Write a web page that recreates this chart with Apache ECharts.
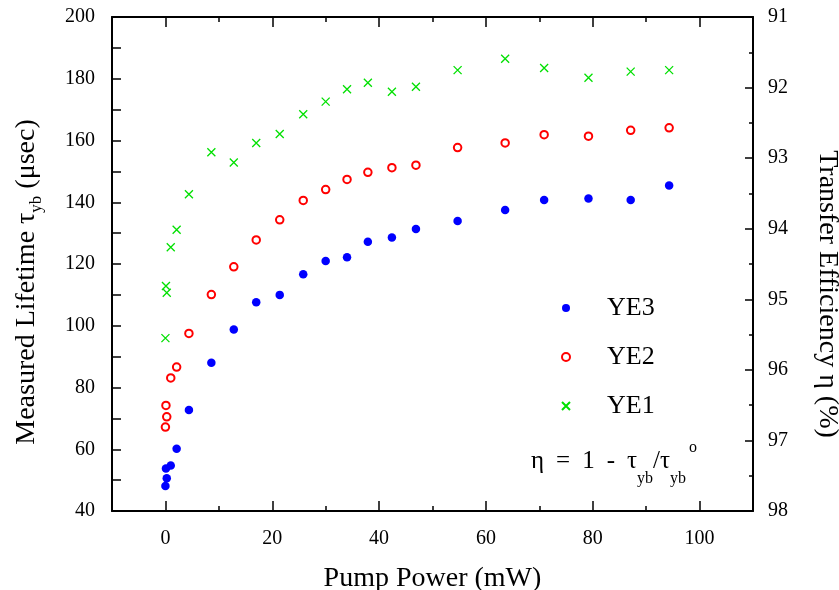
<!DOCTYPE html>
<html><head><meta charset="utf-8">
<script src="https://cdn.jsdelivr.net/npm/echarts@6/dist/echarts.min.js"></script>
<style>html,body{margin:0;padding:0;background:#fff}#c{width:839px;height:590px}</style>
</head><body><div id="c"></div>
<script>
// Pump power (mW), shared by all three samples
const power = [0, 0.25, 0.1, 1.0, 2.1, 4.4, 8.6, 12.8, 17.0, 21.4, 25.8, 30.0, 34.0, 37.9, 42.4, 46.9, 54.7, 63.6, 70.9, 79.2, 87.1, 94.3];
// Measured lifetime tau_yb (usec)
const ye3 = [48.1, 50.6, 53.8, 54.7, 60.2, 72.7, 88.0, 98.8, 107.6, 110.0, 116.7, 121.0, 122.2, 127.2, 128.6, 131.3, 133.9, 137.5, 140.7, 141.2, 140.7, 145.4];
const ye2 = [67.2, 70.5, 74.2, 83.1, 86.6, 97.5, 110.1, 119.1, 127.8, 134.3, 140.6, 144.1, 147.4, 149.7, 151.2, 152.0, 157.7, 159.2, 161.9, 161.4, 163.3, 164.1];
const ye1 = [96.0, 110.7, 112.9, 125.4, 131.1, 142.6, 156.2, 152.9, 159.2, 162.1, 168.5, 172.6, 176.6, 178.7, 175.8, 177.4, 182.8, 186.5, 183.5, 180.3, 182.3, 182.8];
const seriesNames = ['YE3', 'YE2', 'YE1'];
const xMajorTicks = [0, 20, 40, 60, 80, 100];
const xMinorTicks = [10, 30, 50, 70, 90];

const FONT = 'Liberation Serif';
const chart = echarts.init(document.getElementById('c'), null, {renderer: 'canvas'});
function pairs(ys) { return power.map((x, i) => [x, ys[i]]); }
const tickLine = {color: '#000', width: 1.5};

function xAx(position, ticks, len, main) {
  return {
    type: 'value', position: position, min: -10, max: 110, gridIndex: 0,
    axisLine: {show: main, onZero: false, lineStyle: {color: '#000', width: 2}},
    axisTick: {show: true, inside: true, length: len, customValues: ticks, lineStyle: tickLine},
    axisLabel: main && position === 'bottom'
      ? {show: true, customValues: xMajorTicks, margin: 18, fontSize: 20, fontFamily: FONT, color: '#000'}
      : {show: false},
    splitLine: {show: false},
    name: main && position === 'bottom' ? 'Pump Power (mW)' : '',
    nameLocation: 'middle', nameGap: 54,
    nameTextStyle: {fontSize: 28, fontFamily: FONT, color: '#000'}
  };
}

const option = {
  animation: false,
  backgroundColor: '#fff',
  grid: {left: 112, right: 86, top: 17, bottom: 79, containLabel: false, outerBoundsMode: 'none'},
  xAxis: [
    xAx('bottom', xMajorTicks, 10, true),
    xAx('bottom', xMinorTicks, 5, false),
    xAx('top', xMajorTicks, 10, true),
    xAx('top', xMinorTicks, 5, false)
  ],
  yAxis: [
    {
      type: 'value', position: 'left', min: 40, max: 200, interval: 20,
      axisLine: {show: true, onZero: false, lineStyle: {color: '#000', width: 2}},
      axisTick: {show: true, inside: true, length: 9, lineStyle: tickLine},
      minorTick: {show: true, splitNumber: 2, length: 9, lineStyle: tickLine},
      axisLabel: {margin: 17, fontSize: 20, fontFamily: FONT, color: '#000'},
      splitLine: {show: false},
      name: 'Measured Lifetime τ{sub|yb} (μsec)',
      nameLocation: 'middle', nameGap: 67,
      nameTextStyle: {fontSize: 28, fontFamily: FONT, color: '#000', lineHeight: 36, padding: [0, 36, 0, 0],
        rich: {sub: {fontSize: 17, fontFamily: FONT, color: '#000', lineHeight: 17, verticalAlign: 'bottom'}}}
    },
    {
      type: 'value', position: 'right', min: 91, max: 98, interval: 1, inverse: true,
      axisLine: {show: true, onZero: false, lineStyle: {color: '#000', width: 2}},
      axisTick: {show: true, inside: true, length: 8, lineStyle: tickLine},
      minorTick: {show: true, splitNumber: 2, length: 4, lineStyle: tickLine},
      axisLabel: {margin: 15, fontSize: 20, fontFamily: FONT, color: '#000'},
      splitLine: {show: false},
      name: 'Transfer Efficiency η (%)',
      nameLocation: 'middle', nameGap: 60, nameRotate: -90,
      nameTextStyle: {fontSize: 28, fontFamily: FONT, color: '#000', padding: [0, 0, 0, 60]}
    }
  ],
  legend: {
    orient: 'vertical', left: 556, top: 290, itemWidth: 8, itemHeight: 8, itemGap: 23,
    selectedMode: false, data: seriesNames,
    textStyle: {fontSize: 26, fontFamily: FONT, color: '#000', lineHeight: 26, padding: [0, 0, 0, 32]}
  },
  graphic: [{
    type: 'text', x: 531, y: 435,
    style: {
      text: '{m|η}{g| }{m|=}{g| }{m|1}{g| }{m|-}{g| }{m|τ}{s|yb}{m|/τ}{s|yb}{o|o}',
      font: '24px "Liberation Serif"', fill: '#000', verticalAlign: 'top',
      rich: {
        m: {fontSize: 25, fontFamily: FONT, fill: '#000', lineHeight: 52, verticalAlign: 'middle'},
        g: {fontSize: 25, fontFamily: FONT, width: 12, lineHeight: 52, verticalAlign: 'middle'},
        s: {fontSize: 16, fontFamily: FONT, fill: '#000', lineHeight: 16, verticalAlign: 'bottom'},
        o: {fontSize: 16, fontFamily: FONT, fill: '#000', lineHeight: 16, verticalAlign: 'top', padding: [5, 0, 0, 3]}
      }
    }
  }],
  series: [
    {type: 'scatter', name: seriesNames[0], xAxisIndex: 0, yAxisIndex: 0, data: pairs(ye3),
     symbol: 'circle', symbolSize: 8.5, itemStyle: {color: '#0000ff', opacity: 1}},
    {type: 'scatter', name: seriesNames[1], xAxisIndex: 0, yAxisIndex: 0, data: pairs(ye2),
     symbol: 'emptyCircle', symbolSize: 7.5, itemStyle: {color: '#ff0000', borderColor: '#ff0000', borderWidth: 1.1, opacity: 1}},
    {type: 'scatter', name: seriesNames[2], xAxisIndex: 0, yAxisIndex: 0, data: pairs(ye1),
     symbol: 'path://M0,0L10,10M10,0L0,10', symbolSize: 8,
     itemStyle: {color: '#00e000', borderColor: '#00e000', borderWidth: 1.3, opacity: 1}}
  ]
};
chart.setOption(option);
</script>
</body></html>
